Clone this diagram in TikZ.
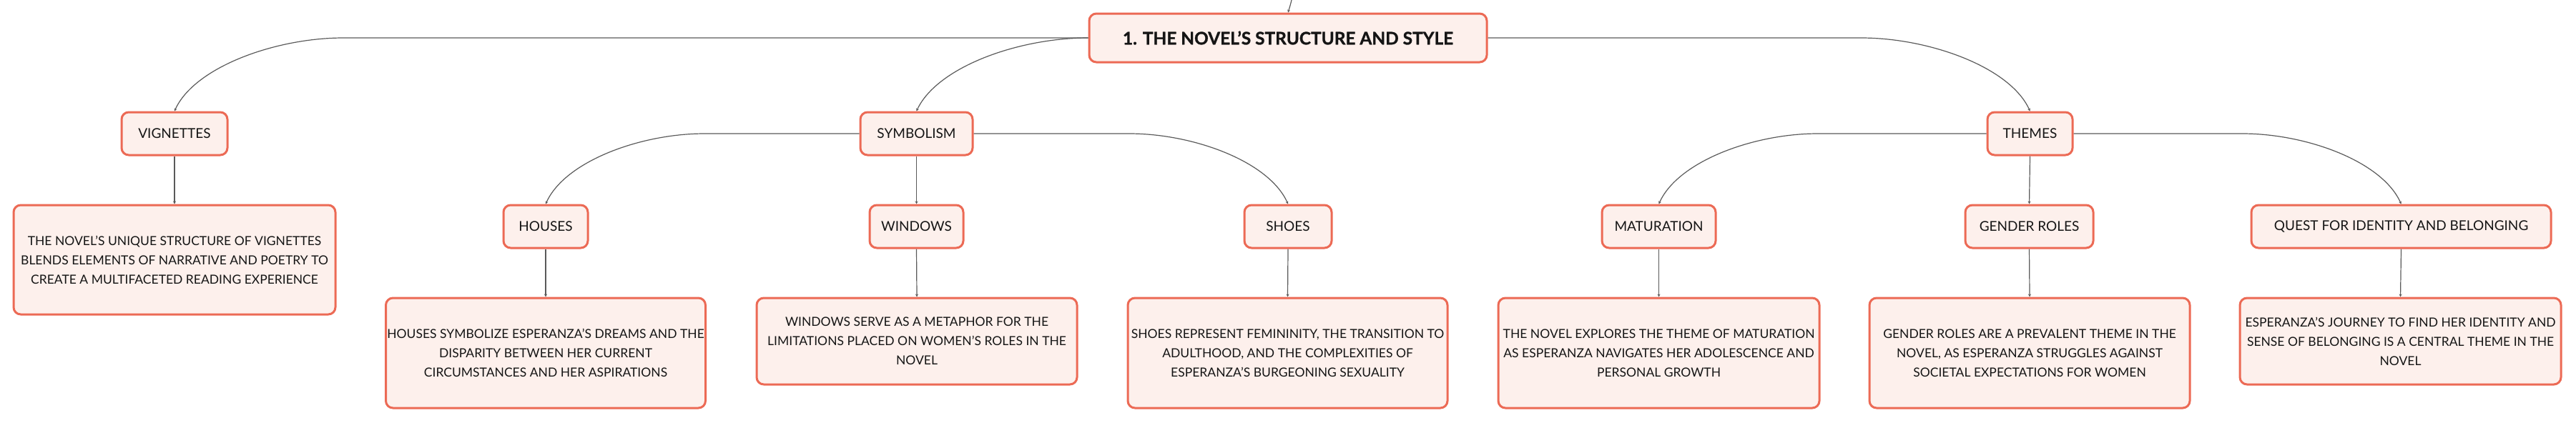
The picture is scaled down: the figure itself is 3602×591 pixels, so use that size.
\documentclass[tikz,border=0pt]{standalone}
\usepackage{fontspec}
\setmainfont{Lato}
\newfontfamily\rootfont{Lato}[BoldFeatures={FakeBold=1.2}]
\usetikzlibrary{calc,arrows.meta}
\definecolor{boxline}{HTML}{EC6A55}
\definecolor{boxfill}{HTML}{FDF0EC}
\definecolor{connc}{HTML}{5A5A5A}
\definecolor{txt}{HTML}{151515}
\tikzset{
  box/.style={draw=boxline, fill=boxfill, line width=1.5pt, rounded corners=5pt,
    inner sep=0pt, text=txt, align=center},
  rootbox/.style={box, minimum height=34pt, font=\rootfont\fontsize{12.2}{15}\selectfont\bfseries},
  lbl/.style={box, minimum height=30pt, font=\fontsize{9.5}{12}\selectfont},
  desc/.style={box, font=\fontsize{8.75}{13.5}\selectfont},
  conn/.style={draw=connc, line width=0.6pt, -{Stealth[length=2pt,width=2pt]}},
}
\begin{document}
\begin{tikzpicture}[x=0.5pt,y=-0.5pt]
\useasboundingbox (0,0) rectangle (3602,591);
% nodes
\node[rootbox, minimum width=278pt] (root) at (1801,53) {1. THE NOVEL’S STRUCTURE AND STYLE};
\node[lbl, minimum width=74pt] (vig) at (244,187) {VIGNETTES};
\node[lbl, minimum width=78.5pt] (sym) at (1281.5,187) {SYMBOLISM};
\node[lbl, minimum width=59.5pt] (themes) at (2838.5,187) {THEMES};
\node[desc, minimum width=225pt, minimum height=76.5pt] (vigtxt) at (244,363.5)
  {THE NOVEL’S UNIQUE STRUCTURE OF VIGNETTES\\BLENDS ELEMENTS OF NARRATIVE AND POETRY TO\\CREATE A MULTIFACETED READING EXPERIENCE};
\node[lbl, minimum width=59pt] (houses) at (763,317) {HOUSES};
\node[lbl, minimum width=65.5pt] (windows) at (1281.5,317) {WINDOWS};
\node[lbl, minimum width=61pt] (shoes) at (1801,317) {SHOES};
\node[lbl, minimum width=79.5pt] (matur) at (2319.5,317) {MATURATION};
\node[lbl, minimum width=89.5pt] (gender) at (2837.5,317) {GENDER ROLES};
\node[lbl, minimum width=209.5pt] (quest) at (3357.5,317) {QUEST FOR IDENTITY AND BELONGING};
\node[desc, minimum width=223.5pt, minimum height=77pt] (housestxt) at (763,494)
  {HOUSES SYMBOLIZE ESPERANZA’S DREAMS AND THE\\DISPARITY BETWEEN HER CURRENT\\CIRCUMSTANCES AND HER ASPIRATIONS};
\node[desc, minimum width=224pt, minimum height=60.5pt] (windowstxt) at (1282,477.5)
  {WINDOWS SERVE AS A METAPHOR FOR THE\\LIMITATIONS PLACED ON WOMEN’S ROLES IN THE\\NOVEL};
\node[desc, minimum width=223.5pt, minimum height=77pt] (shoestxt) at (1800.5,494)
  {SHOES REPRESENT FEMININITY, THE TRANSITION TO\\ADULTHOOD, AND THE COMPLEXITIES OF\\ESPERANZA’S BURGEONING SEXUALITY};
\node[desc, minimum width=224.5pt, minimum height=77pt] (maturtxt) at (2319.5,494)
  {THE NOVEL EXPLORES THE THEME OF MATURATION\\AS ESPERANZA NAVIGATES HER ADOLESCENCE AND\\PERSONAL GROWTH};
\node[desc, minimum width=224pt, minimum height=77pt] (gendertxt) at (2838,494)
  {GENDER ROLES ARE A PREVALENT THEME IN THE\\NOVEL, AS ESPERANZA STRUGGLES AGAINST\\SOCIETAL EXPECTATIONS FOR WOMEN};
\node[desc, minimum width=224.5pt, minimum height=60.5pt] (questtxt) at (3356.5,477.5)
  {ESPERANZA’S JOURNEY TO FIND HER IDENTITY AND\\SENSE OF BELONGING IS A CENTRAL THEME IN THE\\NOVEL};
% incoming connector from above
\coordinate (incoming) at (1807,-4);
\draw[conn] (incoming) .. controls (1804,8) .. (root.north);
% level 1
\draw[conn] (root.west) -- ($(vig.north |- root.west)+(236,0)$)
  .. controls +(-94,0) and +(28,-62) .. (vig.north);
\draw[conn] (root.west) .. controls +(-97,0) and +(29,-62) .. (sym.north);
\draw[conn] (root.east) -- ($(themes.north |- root.east)+(-236,0)$)
  .. controls +(94,0) and +(-28,-62) .. (themes.north);
% level 2
\draw[conn] (sym.west) -- ($(houses.north |- sym.west)+(222,0)$)
  .. controls +(-89,0) and +(27,-60) .. (houses.north);
\draw[conn] (sym.south) -- (windows.north);
\draw[conn] (sym.east) -- ($(shoes.north |- sym.east)+(-222,0)$)
  .. controls +(89,0) and +(-27,-60) .. (shoes.north);
\draw[conn] (themes.west) -- ($(matur.north |- themes.west)+(222,0)$)
  .. controls +(-89,0) and +(27,-60) .. (matur.north);
\draw[conn] (themes.south) -- (gender.north);
\draw[conn] (themes.east) -- ($(quest.north |- themes.east)+(-222,0)$)
  .. controls +(89,0) and +(-27,-60) .. (quest.north);
% level 3
\draw[conn] (vig.south) -- (vigtxt.north);
\draw[conn] (houses.south) -- (housestxt.north);
\draw[conn] (windows.south) -- (windowstxt.north);
\draw[conn] (shoes.south) -- (shoestxt.north);
\draw[conn] (matur.south) -- (maturtxt.north);
\draw[conn] (gender.south) -- (gendertxt.north);
\draw[conn] (quest.south) -- (questtxt.north);
\end{tikzpicture}
\end{document}
